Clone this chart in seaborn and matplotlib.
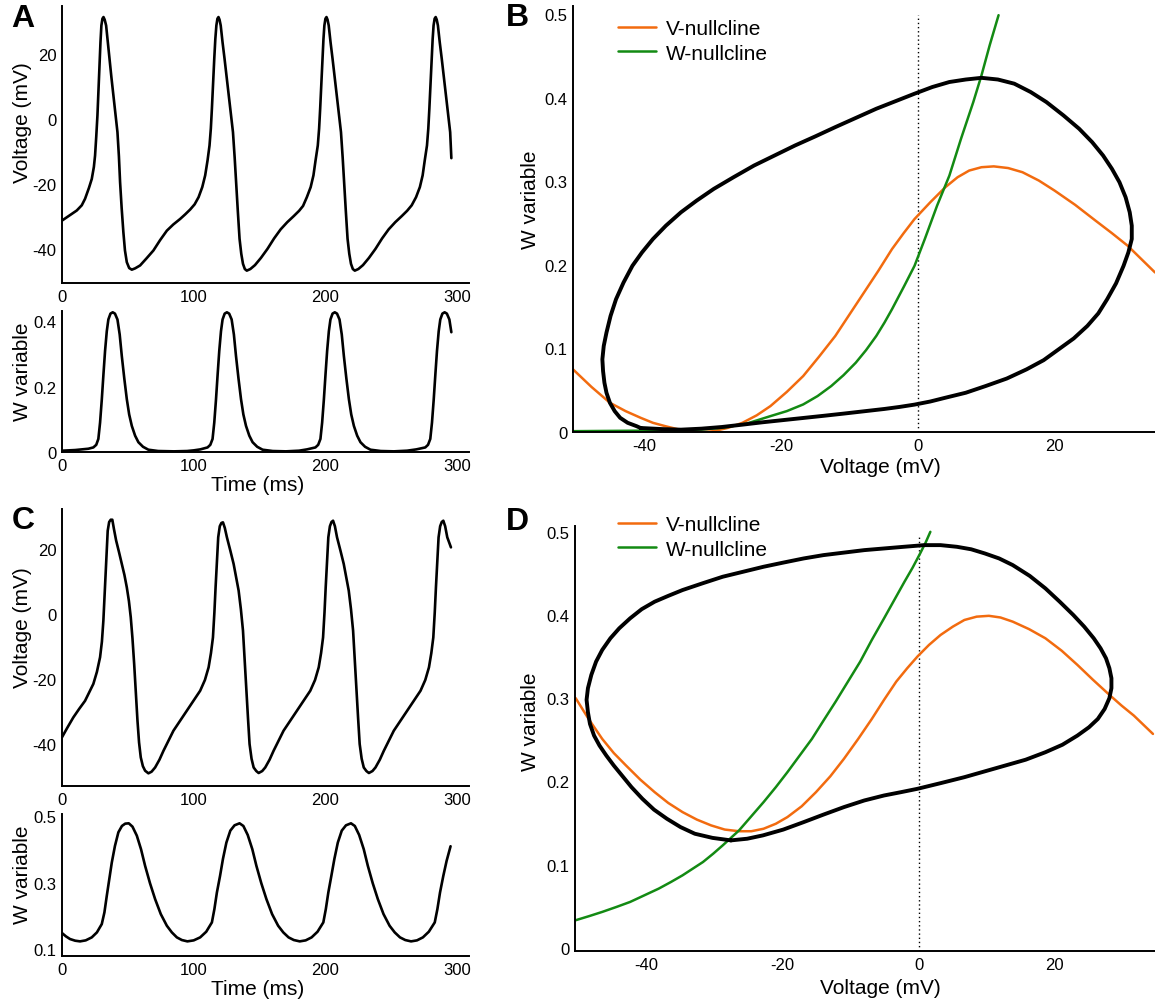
import numpy as np
import pandas as pd
import matplotlib
matplotlib.use("Agg")
import matplotlib.pyplot as plt
import seaborn as sns

# ---------------- Panel A: time traces ----------------
a_time_v = [0, 5, 11.2, 15, 17.5, 20.5, 22.6, 24.2, 25.1, 26.0, 26.9, 27.7, 28.4, 29.2, 29.9, 30.7, 31.5, 32.4, 33.5,
            34.8, 36.0, 37.5, 39.0, 40.6, 42.1, 43.2, 44.1, 45.3, 46.6, 47.8, 49.2, 51.0, 53.0, 55.5, 59.3, 64.0, 69.4,
            74.5, 79.6, 84.5, 89.7, 93.5, 97.3, 100.7, 103.7, 106.5, 108.7, 110.5, 112.0, 113.0, 113.8, 114.7, 115.6,
            116.4, 117.2, 118.0, 118.8, 119.6, 120.5, 121.9, 123.4, 125.0, 126.5, 128.2, 129.8, 131.1, 132.3, 133.5,
            134.8, 136.1, 137.4, 138.8, 140.3, 143.0, 146.5, 151, 156, 161, 166, 171, 176, 180, 183, 185.9, 188.8,
            190.9, 192.5, 194.2, 195.2, 196.0, 196.9, 197.8, 198.5, 199.2, 200.0, 200.8, 201.6, 202.5, 203.9, 205.4,
            207.0, 208.5, 210.2, 211.8, 213.1, 214.3, 215.5, 216.8, 218.1, 219.4, 220.8, 222.3, 225, 228.5, 233, 238,
            243, 248, 253, 258, 262, 265.5, 268.8, 271.7, 273.8, 275.4, 277.1, 278.1, 278.9, 279.8, 280.7, 281.4,
            282.1, 282.9, 283.7, 284.5, 285.4, 286.8, 288.3, 289.9, 291.4, 293.1, 294.7, 295.6]
a_volt = [-31.3, -29.9, -28.2, -26.6, -24.6, -21.2, -18.5, -14.8, -11.3, -5.5, 1.0, 9, 16.4, 23.5, 28.7, 30.8, 31.3,
          30.5, 28.7, 23.5, 18.5, 12.8, 7.2, 1.5, -4.1, -11.5, -19.5, -27.5, -34.9, -40.5, -44.1, -45.9, -46.4, -46.0,
          -45.1, -43.0, -40.5, -37.3, -34.4, -32.5, -30.8, -29.4, -27.9, -26.3, -24.1, -21.0, -17.4, -12.8, -8.2,
          -3.0, 3.1, 11, 18.5, 24.5, 28.7, 30.8, 31.3, 30.5, 28.7, 23.5, 18.5, 12.8, 7.2, 1.5, -4.1, -12, -20.5,
          -28.5, -36.9, -41.5, -44.6, -46.2, -46.7, -46.2, -45.0, -42.8, -40.0, -36.8, -34.0, -31.8, -29.9, -28.3,
          -26.8, -24.1, -21.0, -17.4, -12.8, -8.2, -3.0, 3.1, 11, 18.5, 24.5, 28.7, 30.8, 31.3, 30.5, 28.7, 23.5,
          18.5, 12.8, 7.2, 1.5, -4.1, -12, -20.5, -28.5, -36.9, -41.5, -44.6, -46.2, -46.7, -46.2, -45.0, -42.8,
          -40.0, -36.8, -34.0, -31.8, -29.9, -28.3, -26.6, -24.1, -21.0, -17.4, -12.8, -8.2, -3.0, 3.1, 11, 18.5,
          24.5, 28.7, 30.8, 31.3, 30.5, 28.7, 23.5, 18.5, 12.8, 7.2, 1.5, -4.1, -12.1]

a_time_w = [0, 10, 20, 23.8, 26, 27.6, 28.9, 30.2, 31.5, 32.7, 34, 35.2, 36.8, 38.5, 40.2, 42.1, 43.8, 45.4, 47.3,
            49.2, 51, 53, 55.5, 58, 61.5, 65.6, 73, 85, 95, 100, 105, 110.5, 112.6, 114.3, 115.6, 116.9, 118.2,
            119.4, 120.7, 121.9, 123.5, 125.2, 126.9, 128.8, 130.5, 132.1, 134.0, 135.9, 137.7, 139.7, 142.2, 144.7,
            148.2, 152.3, 160, 170, 180, 186, 192.4, 194.5, 196.2, 197.5, 198.8, 200.1, 201.3, 202.6, 203.8, 205.4,
            207.1, 208.8, 210.7, 212.4, 214.0, 215.9, 217.8, 219.6, 221.6, 224.1, 226.6, 230.1, 234.2, 242, 252, 262,
            269, 275.8, 277.9, 279.6, 280.9, 282.2, 283.5, 284.7, 286.0, 287.2, 288.8, 290.5, 292.2, 294.1, 295.6]
a_wvar = [0.004, 0.006, 0.010, 0.014, 0.022, 0.04, 0.09, 0.16, 0.24, 0.31, 0.37, 0.406, 0.424, 0.428, 0.424, 0.406,
          0.36, 0.294, 0.225, 0.162, 0.115, 0.08, 0.05, 0.030, 0.016, 0.007, 0.003, 0.002, 0.003, 0.005, 0.008,
          0.014, 0.022, 0.04, 0.09, 0.16, 0.24, 0.31, 0.37, 0.406, 0.424, 0.428, 0.424, 0.406, 0.36, 0.294, 0.225,
          0.162, 0.115, 0.08, 0.05, 0.030, 0.016, 0.007, 0.003, 0.002, 0.004, 0.008, 0.014, 0.022, 0.04, 0.09,
          0.16, 0.24, 0.31, 0.37, 0.406, 0.424, 0.428, 0.424, 0.406, 0.36, 0.294, 0.225, 0.162, 0.115, 0.08, 0.05,
          0.030, 0.016, 0.007, 0.003, 0.002, 0.004, 0.008, 0.014, 0.022, 0.04, 0.09, 0.16, 0.24, 0.31, 0.37, 0.406,
          0.424, 0.428, 0.424, 0.406, 0.367]

# ---------------- Panel C: time traces ----------------
c_time_v = [0, 4, 8.6, 13, 17.5, 21, 23.8, 26.5, 28.9, 30.3, 31.4, 32.3, 33.2, 34.0, 34.7, 35.8, 37.0, 38.2, 39.5,
            41.1, 43.3, 45.4, 47.4, 49.2, 50.8, 52.2, 53.5, 54.8, 56.0, 57.3, 58.5, 59.8, 61.4, 63.1, 65.6, 68.0,
            70.7, 74, 77, 80.8, 84.6, 89.7, 94.8, 99.8, 104.9, 108.5, 111.3, 113.1, 114.6, 115.7, 116.6, 117.6,
            118.6, 119.8, 121.0, 122.2, 123.6, 125.2, 127.8, 130.3, 132.2, 134.1, 135.8, 137.4, 138.7, 139.9, 141.2,
            142.4, 143.9, 145.5, 147.5, 149.3, 152, 154.3, 157.6, 160.6, 164.4, 168.2, 173.3, 178.4, 183.4, 188.5,
            192.1, 194.9, 196.7, 198.2, 199.3, 200.2, 201.2, 202.2, 203.4, 204.6, 205.8, 207.2, 208.8, 211.4, 213.9,
            215.8, 217.7, 219.4, 221.0, 222.3, 223.5, 224.8, 226.0, 227.5, 229.1, 231.1, 233.0, 235.7, 238, 241.3,
            244.3, 248.1, 251.9, 257, 262.1, 267.1, 272.2, 275.8, 278.6, 280.4, 281.9, 283.0, 283.9, 284.9, 285.9,
            287.1, 288.3, 289.5, 290.9, 292.5, 295.3]
c_volt = [-37.9, -35.0, -31.8, -29.2, -26.7, -23.8, -21.5, -17.8, -13.3, -8.5, -2.1, 5.5, 13.3, 20.5, 25.6, 28.3,
          29.0, 29.0, 26.0, 22.6, 19.0, 15.4, 12.0, 8.2, 4.0, -1.0, -7.5, -15.4, -24.0, -32.8, -39.5, -44.1, -46.8,
          -48.2, -49.0, -48.5, -47.2, -44.8, -42.1, -39.0, -35.9, -32.8, -29.7, -26.7, -23.6, -20.3, -16.4, -12.0,
          -7.2, 0.5, 8.2, 16.0, 23.6, 27.0, 28.0, 28.2, 26.5, 23.6, 19.5, 15.4, 11.3, 7.2, 1.5, -5.1, -14.5, -23.6,
          -32.0, -40.0, -44.5, -47.2, -48.3, -48.9, -48.3, -47.2, -44.8, -42.1, -39.0, -35.9, -32.8, -29.7, -26.7,
          -23.6, -20.3, -16.4, -12.0, -7.2, 0.5, 8.2, 16.0, 23.6, 27.0, 28.3, 28.7, 27.0, 23.6, 19.5, 15.4, 11.3,
          7.2, 1.5, -5.1, -14.5, -23.6, -32.0, -40.0, -44.5, -47.2, -48.3, -48.9, -48.3, -47.2, -44.8, -42.1, -39.0,
          -35.9, -32.8, -29.7, -26.7, -23.6, -20.3, -16.4, -12.0, -7.2, 0.5, 8.2, 16.0, 23.6, 27.0, 28.3, 28.7,
          27.0, 23.6, 20.5]

c_time_w = [0, 3, 6.1, 10, 13.7, 18, 22.6, 26.5, 30.2, 32.2, 34, 35.9, 37.8, 40.2, 42.8, 45.5, 48, 50.7, 53.5, 56.8,
            60, 63.1, 66.8, 70.7, 75, 79.6, 83.4, 87.2, 91, 95.2, 100, 104.9, 109.5, 113.8, 115.7, 117.6, 120, 122.2,
            124.8, 127.8, 131, 134.8, 137.7, 141, 144.5, 147.6, 151.3, 155.2, 159.5, 164.1, 168, 172, 176, 180.5,
            185, 189.5, 194, 198.4, 200.3, 202.2, 204.5, 206.8, 209.4, 212.4, 215.6, 219.4, 222.3, 225.6, 229.1,
            232.2, 235.9, 239.8, 244.1, 248.7, 252.6, 256.6, 260.6, 265, 269.5, 274, 278.5, 283, 285, 287, 289.5,
            292, 295]
c_wvar = [0.148, 0.138, 0.130, 0.125, 0.123, 0.126, 0.135, 0.150, 0.175, 0.21, 0.26, 0.31, 0.36, 0.41, 0.451, 0.47,
          0.477, 0.478, 0.468, 0.441, 0.40, 0.35, 0.298, 0.250, 0.205, 0.170, 0.150, 0.135, 0.127, 0.123, 0.126,
          0.135, 0.152, 0.180, 0.22, 0.27, 0.32, 0.371, 0.42, 0.456, 0.472, 0.478, 0.470, 0.443, 0.40, 0.35, 0.298,
          0.250, 0.205, 0.170, 0.150, 0.135, 0.127, 0.123, 0.126, 0.135, 0.152, 0.180, 0.22, 0.27, 0.32, 0.371,
          0.42, 0.456, 0.472, 0.478, 0.470, 0.443, 0.40, 0.35, 0.298, 0.250, 0.205, 0.170, 0.150, 0.135, 0.127,
          0.123, 0.126, 0.135, 0.152, 0.180, 0.22, 0.27, 0.32, 0.365, 0.409]

# ---------------- Panel B: phase plane ----------------
b_loop_v = [-40.6, -37.5, -34.7, -31.7, -28.7, -25.7, -22.8, -19.8, -16.8, -13.8, -10.9, -7.9, -4.9, -2.7, -0.5, 1.8,
            4.0, 7.0, 9.9, 13.0, 15.9, 18.4, 20.6, 22.8, 24.8, 26.4, 27.7, 29.0, 30.1, 30.8, 31.3, 31.3, 31.0, 30.4,
            29.5, 28.4, 27.1, 25.5, 23.6, 21.3, 18.8, 16.5, 14.1, 11.7, 9.3, 7.0, 4.6, 2.1, -0.5, -3.3, -6.1, -9.1,
            -12.1, -15.0, -18.0, -21.0, -24.0, -27.0, -29.9, -32.4, -34.7, -36.9, -38.8, -40.4, -41.8, -43.1, -44.2,
            -45.0, -45.6, -46.0, -46.2, -46.1, -45.9, -45.6, -45.1, -44.4, -43.6, -42.5, -41.2, -40.6]
b_loop_w = [0.0048, 0.0035, 0.0028, 0.004, 0.006, 0.0088, 0.0116, 0.0142, 0.0168, 0.0194, 0.022, 0.0248, 0.0276,
            0.030, 0.0328, 0.0365, 0.041, 0.047, 0.055, 0.064, 0.075, 0.086, 0.099, 0.112, 0.127, 0.142, 0.159,
            0.178, 0.199, 0.215, 0.231, 0.247, 0.263, 0.281, 0.299, 0.315, 0.331, 0.347, 0.363, 0.379, 0.395, 0.407,
            0.417, 0.422, 0.424, 0.422, 0.419, 0.413, 0.405, 0.396, 0.387, 0.376, 0.365, 0.354, 0.343, 0.331, 0.319,
            0.305, 0.291, 0.277, 0.263, 0.247, 0.231, 0.215, 0.199, 0.179, 0.159, 0.139, 0.119, 0.103, 0.087, 0.073,
            0.059, 0.047, 0.035, 0.025, 0.017, 0.011, 0.007, 0.0048]
b_vnull_v = [-50.5, -47.8, -45.1, -42.8, -40.6, -38.8, -37.0, -35.0, -32.9, -31.4, -29.9, -27.8, -25.7, -23.6,
             -21.6, -19.2, -16.8, -14.5, -12.1, -10.0, -7.9, -5.8, -3.8, -2.1, -0.5, 1.8, 4.0, 5.8, 7.5, 9.3, 11.1,
             13.2, 15.3, 17.7, 20.0, 23.0, 26.0, 28.4, 30.7, 32.7, 34.7]
b_vnull_w = [0.075, 0.054, 0.035, 0.025, 0.017, 0.011, 0.007, 0.003, 0.0005, 0.0, 0.001, 0.005, 0.011, 0.020, 0.031,
             0.048, 0.067, 0.090, 0.115, 0.141, 0.167, 0.193, 0.219, 0.238, 0.255, 0.275, 0.293, 0.305, 0.313, 0.317,
             0.318, 0.316, 0.311, 0.301, 0.289, 0.272, 0.253, 0.238, 0.223, 0.207, 0.191]
b_wnull_v = [-50.5, -42, -34.7, -31.7, -28.7, -25.1, -21.6, -19.2, -16.8, -14.7, -12.7, -10.9, -9.1, -7.6, -6.1,
             -4.9, -3.8, -2.0, -0.5, 1.0, 2.8, 4.6, 6.3, 8.1, 9.3, 10.5, 11.8]
b_wnull_w = [0.001, 0.0015, 0.002, 0.003, 0.005, 0.010, 0.019, 0.025, 0.033, 0.043, 0.055, 0.068, 0.083, 0.098,
             0.115, 0.131, 0.147, 0.175, 0.199, 0.231, 0.271, 0.307, 0.351, 0.395, 0.427, 0.463, 0.499]

# ---------------- Panel D: phase plane ----------------
d_loop_v = [-27.6, -25.2, -22.9, -19.9, -16.9, -14.0, -11.0, -8.0, -5.1, -2.6, -0.2, 3.3, 6.7, 9.7, 12.7, 15.7, 18.6,
            21.1, 23.3, 25.0, 26.3, 27.3, 28.0, 28.3, 28.3, 28.0, 27.5, 26.7, 25.7, 24.3, 22.7, 20.7, 18.6, 16.3,
            13.8, 11.8, 9.7, 7.7, 5.6, 3.2, 0.8, -2.2, -5.1, -8.0, -11.0, -14.0, -16.9, -19.9, -22.8, -25.8, -28.8,
            -31.8, -34.7, -36.8, -38.8, -40.7, -42.4, -44.0, -45.3, -46.5, -47.4, -48.1, -48.6, -48.8, -48.6, -48.3,
            -47.7, -46.9, -45.9, -44.8, -43.6, -42.2, -40.6, -38.9, -37.0, -35.0, -32.9, -30.3, -27.6]
d_loop_w = [0.129, 0.131, 0.135, 0.142, 0.151, 0.160, 0.169, 0.177, 0.183, 0.187, 0.191, 0.198, 0.205, 0.212, 0.219,
            0.226, 0.235, 0.244, 0.255, 0.265, 0.275, 0.287, 0.300, 0.312, 0.324, 0.336, 0.348, 0.360, 0.372, 0.386,
            0.400, 0.416, 0.432, 0.447, 0.460, 0.468, 0.474, 0.479, 0.482, 0.484, 0.484, 0.482, 0.480, 0.478, 0.475,
            0.472, 0.468, 0.463, 0.458, 0.452, 0.446, 0.438, 0.430, 0.423, 0.416, 0.407, 0.396, 0.384, 0.372, 0.358,
            0.344, 0.328, 0.312, 0.298, 0.283, 0.269, 0.255, 0.243, 0.231, 0.219, 0.207, 0.193, 0.179, 0.166, 0.155,
            0.145, 0.137, 0.132, 0.129]
d_vnull_v = [-50.4, -48.5, -46.5, -44.8, -43.0, -40.9, -38.8, -36.8, -34.7, -32.6, -30.5, -28.5, -26.4, -24.6, -22.8,
             -21.0, -19.3, -17.2, -15.1, -13.0, -11.0, -8.9, -6.9, -5.1, -3.3, -1.7, -0.2, 1.5, 3.2, 5.0, 6.7, 8.5,
             10.3, 12.0, 13.8, 16.2, 18.6, 21.0, 23.3, 25.6, 28.0, 29.8, 31.6, 33.0, 34.4]
d_vnull_w = [0.300, 0.275, 0.251, 0.234, 0.219, 0.202, 0.187, 0.174, 0.163, 0.154, 0.147, 0.142, 0.140, 0.140, 0.143,
             0.149, 0.157, 0.170, 0.187, 0.206, 0.227, 0.251, 0.275, 0.298, 0.320, 0.336, 0.350, 0.364, 0.376, 0.386,
             0.394, 0.398, 0.399, 0.397, 0.392, 0.383, 0.372, 0.357, 0.340, 0.322, 0.304, 0.291, 0.279, 0.268, 0.257]
d_wnull_v = [-50.4, -48.4, -46.5, -44.4, -42.4, -40.3, -38.2, -36.4, -34.7, -33.2, -31.7, -30.2, -28.8, -27.6, -26.4,
             -24.6, -22.8, -21.0, -19.3, -17.5, -15.7, -14.0, -12.2, -10.4, -8.6, -6.9, -5.1, -3.6, -2.1, -0.9, 0.2,
             1.0, 1.7]
d_wnull_w = [0.033, 0.038, 0.043, 0.049, 0.055, 0.063, 0.071, 0.079, 0.087, 0.095, 0.103, 0.113, 0.123, 0.132, 0.141,
             0.158, 0.175, 0.193, 0.211, 0.231, 0.251, 0.273, 0.296, 0.320, 0.344, 0.370, 0.396, 0.418, 0.440, 0.457,
             0.474, 0.487, 0.500]

time_ticks = [0, 100, 200, 300]
volt_ticks = [-40, -20, 0, 20]
wa_ticks = [0, 0.2, 0.4]
wc_ticks = [0.1, 0.3, 0.5]
phase_w_ticks = [0, 0.1, 0.2, 0.3, 0.4, 0.5]
phase_v_ticks = [-40, -20, 0, 20]

ORANGE = "#F26B0F"
GREEN = "#138A13"

sns.set_theme(style="white")
plt.rcParams["font.family"] = ["Liberation Sans", "DejaVu Sans"]
plt.rcParams["axes.linewidth"] = 1.4
plt.rcParams["axes.edgecolor"] = "black"
plt.rcParams["text.color"] = "black"
plt.rcParams["axes.labelcolor"] = "black"
plt.rcParams["xtick.color"] = "black"
plt.rcParams["ytick.color"] = "black"

W_PX, H_PX = 1155, 1003
fig = plt.figure(figsize=(W_PX / 100, H_PX / 100), dpi=100)


def add_ax(left, top, right, bottom):
    return fig.add_axes([left / W_PX, 1 - bottom / H_PX, (right - left) / W_PX, (bottom - top) / H_PX])


def style(ax, xticks, yticks, yfmt=None):
    sns.despine(ax=ax)
    ax.set_xticks(xticks)
    ax.set_yticks(yticks)
    ax.set_xticklabels([str(t) for t in xticks])
    ax.set_yticklabels([yfmt(t) if yfmt else str(t) for t in yticks])
    ax.tick_params(axis="both", length=0, labelsize=12, pad=4, colors="black", labelcolor="black")
    ax.set_facecolor("white")


def wfmt(t):
    return "0" if t == 0 else ("%g" % t)


axA1 = add_ax(62, 7, 469, 284)
axA2 = add_ax(62, 312, 469, 453)
axC1 = add_ax(62, 510, 469, 787)
axC2 = add_ax(62, 815, 469, 957)
axB = add_ax(573, 7, 1155, 433)
axD = add_ax(575, 527, 1155, 952)

LW = 1.9
sns.lineplot(x=a_time_v, y=a_volt, ax=axA1, color="black", lw=LW, sort=False, estimator=None)
sns.lineplot(x=a_time_w, y=a_wvar, ax=axA2, color="black", lw=LW, sort=False, estimator=None)
sns.lineplot(x=c_time_v, y=c_volt, ax=axC1, color="black", lw=LW, sort=False, estimator=None)
sns.lineplot(x=c_time_w, y=c_wvar, ax=axC2, color="black", lw=LW, sort=False, estimator=None)

for ax in (axA1, axA2, axC1, axC2):
    ax.set_xlim(0, 309)

axA1.set_ylim(-50.5, 34.7)
axA2.set_ylim(0, 0.432)
axC1.set_ylim(-52.9, 32.3)
axC2.set_ylim(0.079, 0.506)

style(axA1, time_ticks, volt_ticks)
style(axA2, time_ticks, wa_ticks, wfmt)
style(axC1, time_ticks, volt_ticks)
style(axC2, time_ticks, wc_ticks, wfmt)

for ax, lv, lw_, vn_v, vn_w, wn_v, wn_w, ylim in (
        (axB, b_loop_v, b_loop_w, b_vnull_v, b_vnull_w, b_wnull_v, b_wnull_w, (0, 0.51)),
        (axD, d_loop_v, d_loop_w, d_vnull_v, d_vnull_w, d_wnull_v, d_wnull_w, (-0.004, 0.507))):
    ax.axvline(0, ymax=0.98, color="black", lw=1.0, ls=(0, (1, 2)))
    sns.lineplot(x=vn_v, y=vn_w, ax=ax, color=ORANGE, lw=1.8, sort=False, estimator=None, label="V-nullcline")
    sns.lineplot(x=wn_v, y=wn_w, ax=ax, color=GREEN, lw=1.8, sort=False, estimator=None, label="W-nullcline")
    sns.lineplot(x=lv, y=lw_, ax=ax, color="black", lw=2.8, sort=False, estimator=None)
    ax.set_xlim(-50.5, 34.7)
    ax.set_ylim(*ylim)
    style(ax, phase_v_ticks, phase_w_ticks, wfmt)
    ax.set_xlabel("Voltage (mV)", fontsize=15)
    ax.set_ylabel("W variable", fontsize=15)

# legends
for ax, top_px in ((axB, 10), (axD, 506)):
    leg = ax.legend(loc="upper left", bbox_to_anchor=(608 / W_PX, 1 - top_px / H_PX), bbox_transform=fig.transFigure,
                    frameon=False, fontsize=15, handlelength=1.8, handletextpad=0.5, labelspacing=0.25, borderpad=0)
    for t in leg.get_texts():
        t.set_color("black")

# axis labels
axA1.set_ylabel("Voltage (mV)", fontsize=15)
axA2.set_ylabel("W variable", fontsize=15)
axC1.set_ylabel("Voltage (mV)", fontsize=15)
axC2.set_ylabel("W variable", fontsize=15)
axA2.set_xlabel("Time (ms)", fontsize=15)
axC2.set_xlabel("Time (ms)", fontsize=15)


def place_label(ax, which, px, py):
    # place axis label centre at figure pixel (px, py)
    inv = ax.transAxes.inverted()
    disp = fig.transFigure.transform((px / W_PX, 1 - py / H_PX))
    ax_xy = inv.transform(disp)
    if which == "y":
        ax.yaxis.set_label_coords(ax_xy[0], ax_xy[1])
    else:
        ax.xaxis.set_label_coords(ax_xy[0], ax_xy[1])


fig.canvas.draw()
place_label(axA1, "y", 22, 123)
place_label(axA2, "y", 22, 372)
place_label(axC1, "y", 22, 628)
place_label(axC2, "y", 22, 875)
place_label(axA2, "x", 258, 486)
place_label(axC2, "x", 258, 990)
place_label(axB, "y", 531, 200)
place_label(axB, "x", 880, 468)
place_label(axD, "y", 531, 722)
place_label(axD, "x", 880, 989)
for ax in (axA1, axA2, axC1, axC2, axB, axD):
    ax.yaxis.label.set_va("center")
    ax.xaxis.label.set_va("center")

# panel letters
for letter, px, py in (("A", 23, 19), ("B", 517, 18), ("C", 23, 521), ("D", 517, 522)):
    fig.text(px / W_PX, 1 - py / H_PX, letter, fontsize=23, fontweight="bold", ha="center", va="center",
             color="black")

fig.savefig("out.png", dpi=100, facecolor="white")
